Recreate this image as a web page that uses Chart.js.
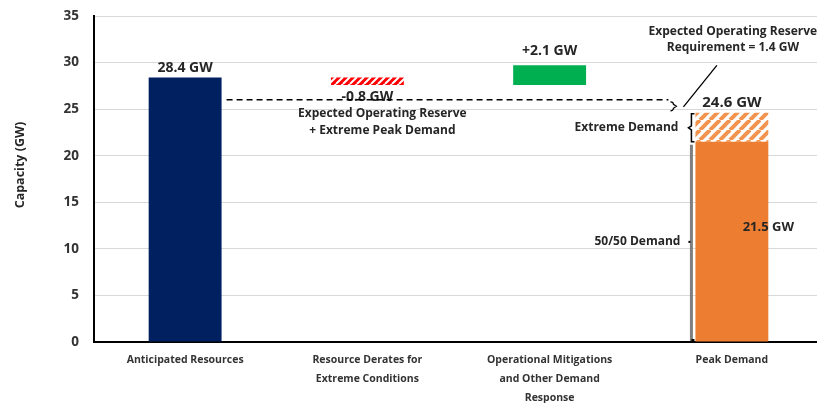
<!DOCTYPE html>
<html>
<head>
<meta charset="utf-8">
<script src="https://cdn.jsdelivr.net/npm/chart.js@4.4.1/dist/chart.umd.min.js"></script>
<style>
  html, body { margin: 0; padding: 0; background: #fff; overflow: hidden; }
  #wrap { width: 823px; height: 403px; }
</style>
</head>
<body>
<div id="wrap"><canvas id="capacityChart"></canvas></div>
<script>
const categories = [
  ["Anticipated Resources"],
  ["Resource Derates for", "Extreme Conditions"],
  ["Operational Mitigations", "and Other Demand", "Response"],
  ["Peak Demand"]
];
// floating bars (GW): where each step starts and ends
const barStarts = [0, 27.6, 27.6, 0];
const barEnds = [28.4, 28.4, 29.7, 21.5];
const barLabels = ["28.4 GW", "-0.8 GW", "+2.1 GW", "21.5 GW"];
// extreme demand stacked on the 50/50 peak
const extremeRange = [21.5, 24.6];
const peakLabel = "24.6 GW";
const reserveRequirement = 1.4;

const FONT = "'Open Sans', 'DejaVu Sans', sans-serif";
const canvas = document.getElementById("capacityChart");
const ctx = canvas.getContext("2d");

// diagonal stripe fill
function hatch(bg, stripe, size, width) {
  const c = document.createElement("canvas");
  c.width = c.height = size;
  const g = c.getContext("2d");
  g.fillStyle = bg;
  g.fillRect(0, 0, size, size);
  g.strokeStyle = stripe;
  g.lineWidth = width;
  g.beginPath();
  for (const o of [-size, 0, size]) {
    g.moveTo(o, size);
    g.lineTo(o + size, 0);
  }
  g.stroke();
  return ctx.createPattern(c, "repeat");
}

const redHatch = hatch("#ff0000", "#ffffff", 7, 2);
const orangeHatch = hatch("#ffffff", "#f2944f", 10, 4);

function label(c, str, px, py, size, align = "center") {
  c.font = `bold ${size}px ${FONT}`;
  c.textAlign = align;
  c.textBaseline = "middle";
  c.fillStyle = "#262626";
  c.fillText(str, px, py);
}

const annotations = {
  id: "annotations",
  afterDatasetsDraw(chart) {
    const c = chart.ctx;
    const { x, y } = chart.scales;
    const bars = chart.getDatasetMeta(0).data;
    const half = bars[0].width / 2;
    const cx = i => x.getPixelForValue(i);
    const py = v => y.getPixelForValue(v);
    const peak = extremeRange[1];
    const reserveY = py(peak + reserveRequirement);
    const peakLeft = cx(3) - half;

    c.save();

    // value labels
    label(c, barLabels[0], cx(0), py(barEnds[0]) - 9, 14);
    label(c, barLabels[1], cx(1), py(barStarts[1]) + 12, 14);
    label(c, barLabels[2], cx(2), py(barEnds[2]) - 14, 14);
    label(c, barLabels[3], cx(3) + half, py(barEnds[3]) + 86, 13);
    label(c, peakLabel, cx(3), py(peak) - 10, 15);

    // reserve + extreme demand line
    c.strokeStyle = "#000";
    c.lineWidth = 1.5;
    c.setLineDash([6, 4]);
    c.beginPath();
    c.moveTo(cx(0) + half + 5, reserveY);
    c.lineTo(peakLeft - 27, reserveY);
    c.stroke();
    c.setLineDash([]);

    label(c, "Expected Operating Reserve", cx(1) + 15, reserveY + 14, 12);
    label(c, "+ Extreme Peak Demand", cx(1) + 15, reserveY + 31, 12);

    // small brace for the reserve requirement
    const bx = peakLeft - 22;
    const bTop = reserveY + 2, bBot = py(peak) - 2, bMid = (bTop + bBot) / 2;
    c.lineWidth = 1.2;
    c.beginPath();
    c.moveTo(bx - 3, bTop);
    c.quadraticCurveTo(bx, bTop, bx, bMid - 2);
    c.lineTo(bx + 3, bMid);
    c.lineTo(bx, bMid + 2);
    c.quadraticCurveTo(bx, bBot, bx - 3, bBot);
    c.stroke();

    // leader to the reserve requirement note
    c.lineWidth = 1.3;
    c.beginPath();
    c.moveTo(bx + 10, reserveY + 7);
    c.lineTo(cx(3) - 15, py(barEnds[2]));
    c.stroke();
    label(c, "Expected Operating Reserve", cx(3) + 1, 32, 12);
    label(c, "Requirement = 1.4 GW", cx(3) + 1, 48, 12);

    // extreme demand brace
    const ex = peakLeft - 4;
    const eTop = py(extremeRange[1]) + 1, eBot = py(extremeRange[0]);
    const eMid = (eTop + eBot) / 2;
    c.lineWidth = 1.5;
    c.beginPath();
    c.moveTo(ex + 3, eTop);
    c.lineTo(ex, eTop);
    c.lineTo(ex, eMid - 2);
    c.lineTo(ex - 3, eMid);
    c.lineTo(ex, eMid + 2);
    c.lineTo(ex, eBot);
    c.lineTo(ex + 3, eBot);
    c.stroke();
    label(c, "Extreme Demand", peakLeft - 17, eMid, 12, "right");

    // 50/50 demand bracket
    const dTop = py(extremeRange[0]) + 3, dBot = py(0);
    const dMid = (py(barEnds[3]) + dBot) / 2;
    c.strokeStyle = "#7f7f7f";
    c.lineWidth = 3;
    c.beginPath();
    c.moveTo(ex, dTop);
    c.lineTo(ex, dBot - 1);
    c.stroke();
    c.fillStyle = "#000";
    c.fillRect(ex - 3, dMid - 1, 2, 2);
    c.fillRect(ex, dBot - 3, 3, 2);
    label(c, "50/50 Demand", peakLeft - 15, dMid, 12, "right");

    // axis title
    c.translate(20, (y.top + y.bottom) / 2 - 14);
    c.rotate(-Math.PI / 2);
    label(c, "Capacity (GW)", 0, 0, 12.5);

    c.restore();
  }
};

new Chart(ctx, {
  type: "bar",
  data: {
    labels: categories,
    datasets: [
      {
        data: barStarts.map((s, i) => [s, barEnds[i]]),
        backgroundColor: ["#002060", redHatch, "#00b050", "#ed7d31"],
        grouped: false,
        barPercentage: 0.4,
        categoryPercentage: 1
      },
      {
        data: [null, null, null, extremeRange],
        backgroundColor: orangeHatch,
        grouped: false,
        barPercentage: 0.4,
        categoryPercentage: 1
      }
    ]
  },
  options: {
    responsive: true,
    maintainAspectRatio: false,
    animation: false,
    layout: { padding: { top: 16, right: 0, left: 0, bottom: 0 } },
    plugins: {
      legend: { display: false },
      tooltip: { enabled: false }
    },
    scales: {
      x: {
        afterFit: s => { s.height = 61; },
        grid: { display: false },
        border: { color: "#000", width: 2 },
        ticks: {
          color: "#333333",
          padding: 1,
          maxRotation: 0,
          font: { family: FONT, size: 10.5, weight: "bold", lineHeight: 1.8 }
        }
      },
      y: {
        min: 0,
        max: 35,
        // fixed axis width; keep the tick padding from pushing the plot down
        afterFit: s => { s.width = 94; s.paddingTop = 4; s.paddingBottom = 4; },
        grid: { color: "#d9d9d9", lineWidth: 1, drawTicks: false },
        border: { color: "#000", width: 2 },
        ticks: {
          stepSize: 5,
          color: "#333333",
          padding: 15,
          font: { family: FONT, size: 13.5, weight: "bold" }
        }
      }
    }
  },
  plugins: [annotations]
});
</script>
</body>
</html>
